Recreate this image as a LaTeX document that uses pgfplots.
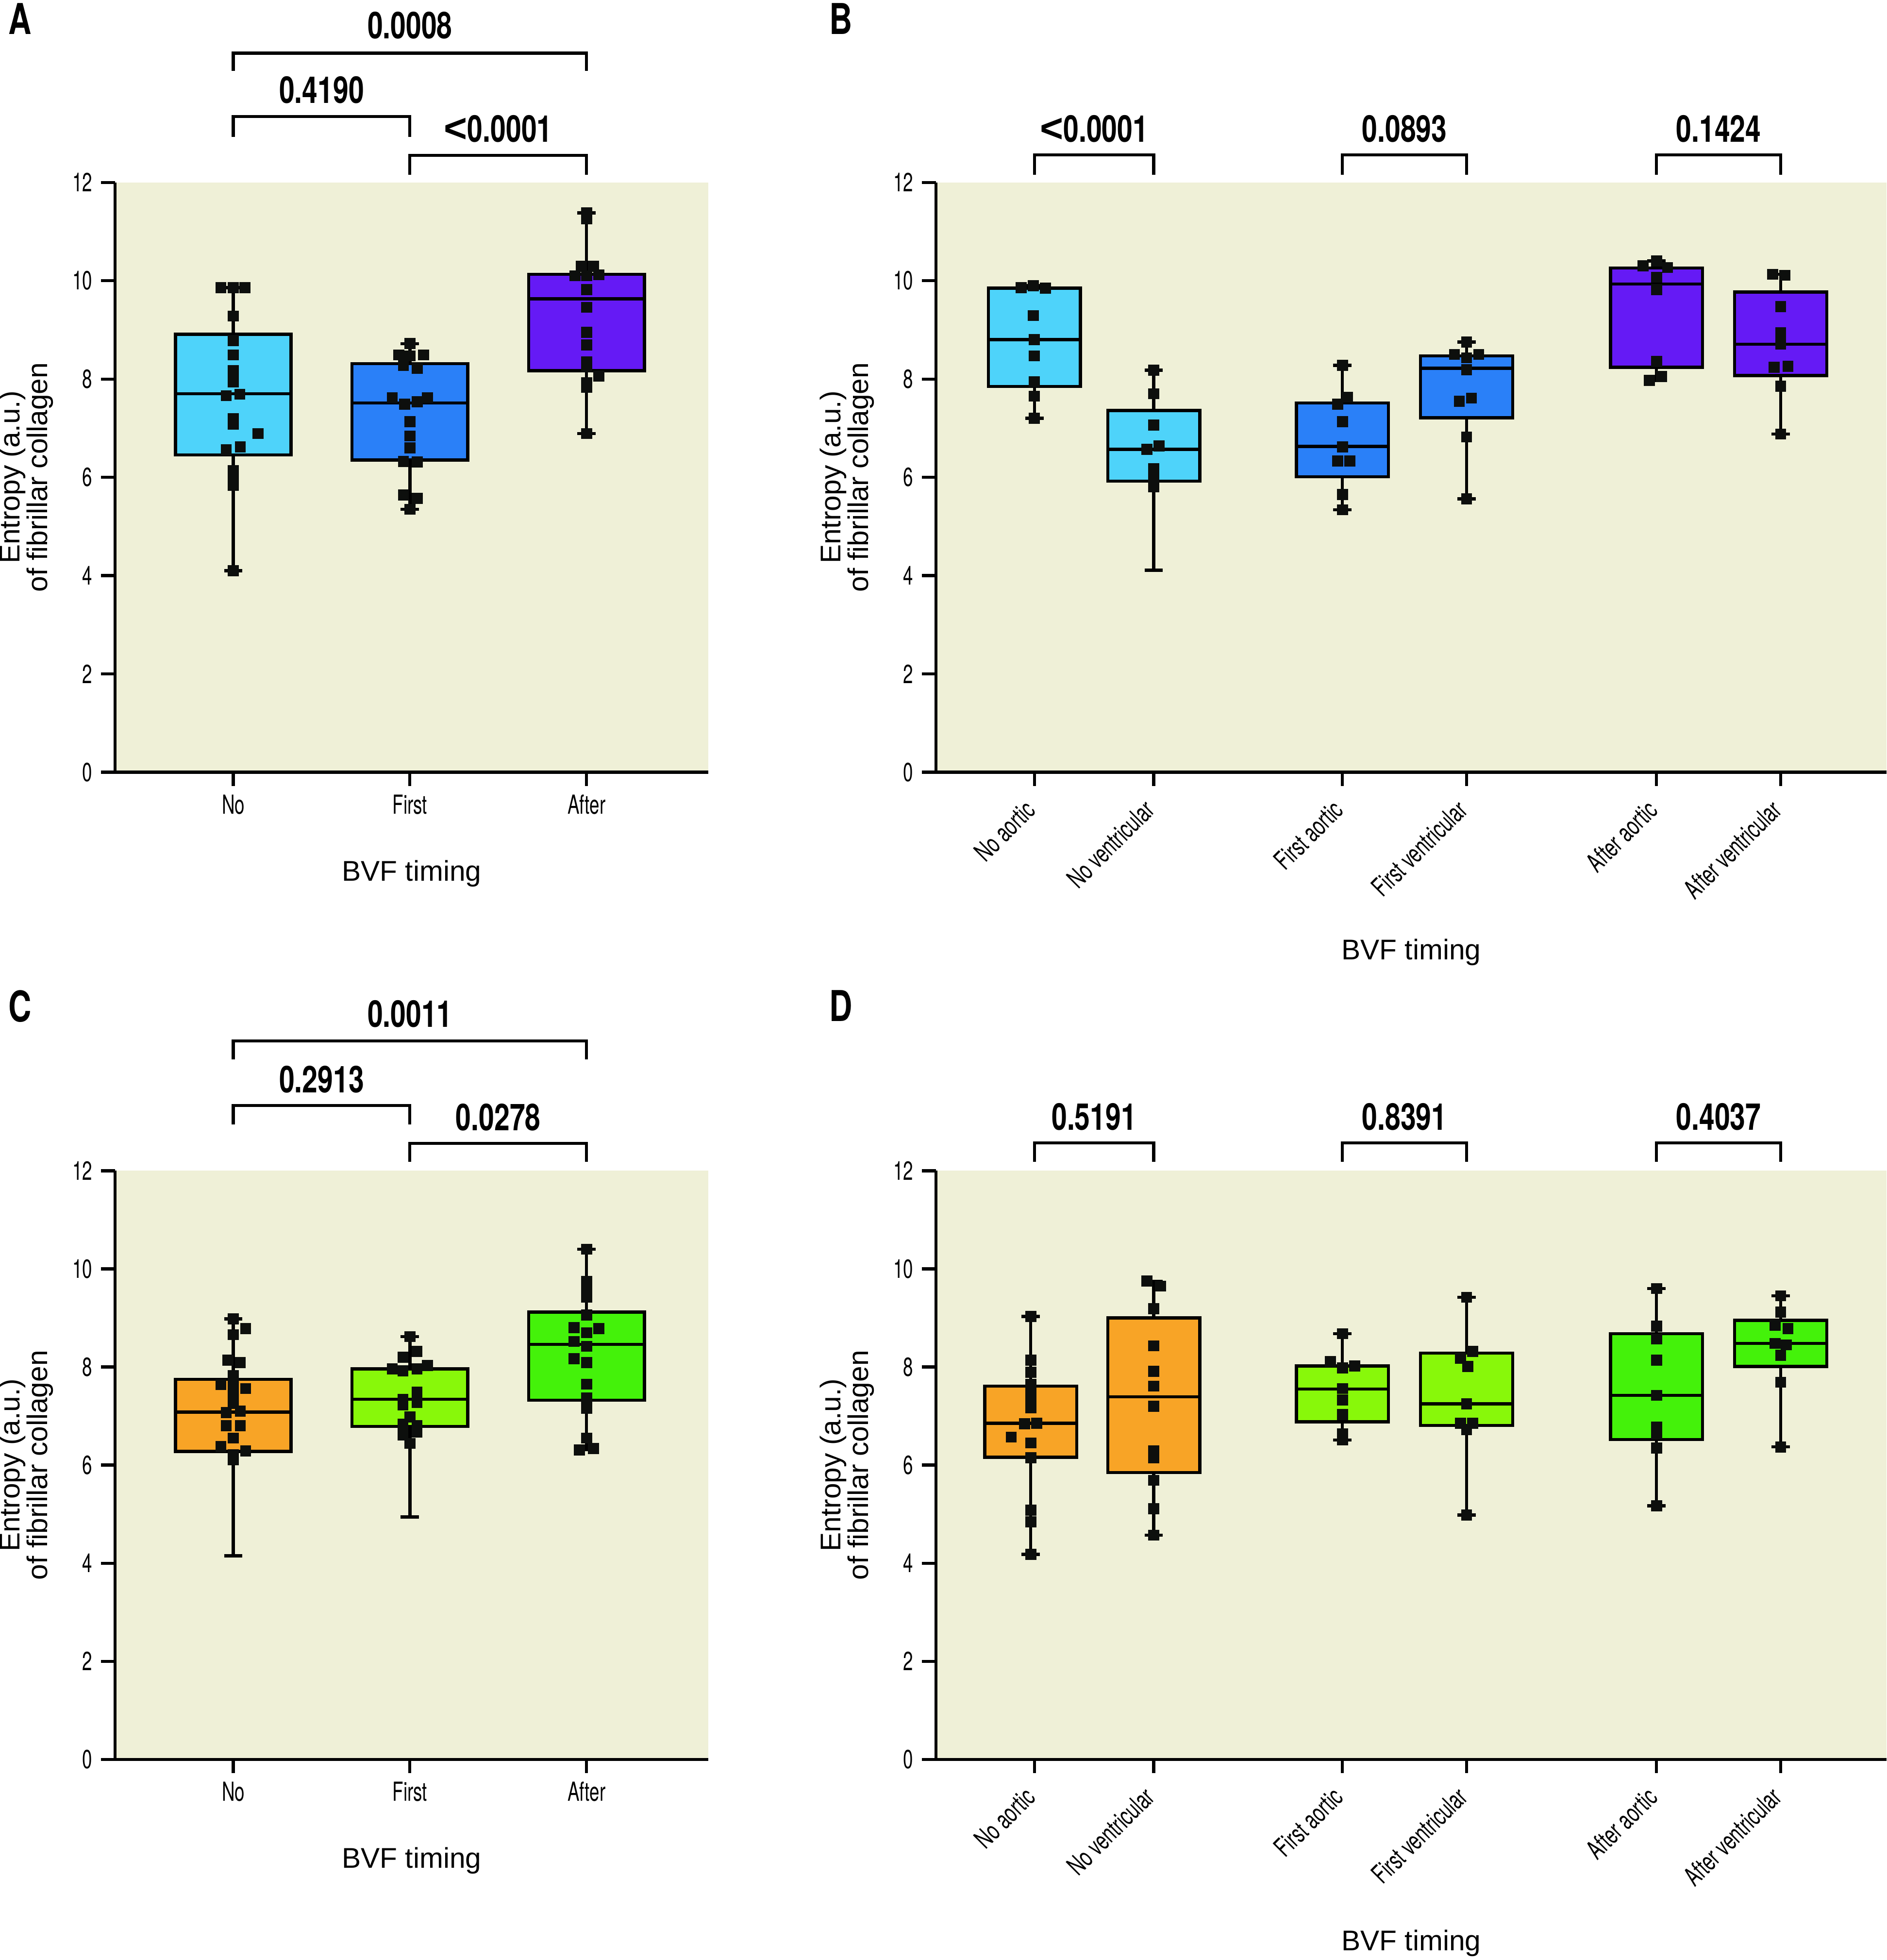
\documentclass[border=0pt]{standalone}
\usepackage{fontspec}
\setmainfont{TeX Gyre Heros}[FakeStretch=0.68]
\newfontfamily\pfont{TeX Gyre Heros}[FakeStretch=0.75]
\newfontfamily\labfont{Liberation Sans}
\usepackage{pgfplots}
\usepgfplotslibrary{statistics}
\pgfplotsset{compat=1.18}
\definecolor{bg}{RGB}{239,240,215}
\definecolor{cNo}{RGB}{78,211,250}
\definecolor{cFirst}{RGB}{42,128,248}
\definecolor{cAfter}{RGB}{101,26,245}
\definecolor{dNo}{RGB}{248,164,38}
\definecolor{dFirst}{RGB}{136,248,10}
\definecolor{dAfter}{RGB}{68,242,10}
\definecolor{mk}{RGB}{13,15,13}
\pgfplotsset{
  panel/.style={
    scale only axis, clip=false, axis lines=left,
    axis line style={-, line width=1.2pt, black},
    ymin=0, ymax=12, ytick={0,2,4,6,8,10,12},
    tick align=outside, major tick length=5.5pt,
    tick style={black, line width=1.2pt},
    tick label style={font=\fontsize{10.5}{12}\selectfont},
    /pgf/number format/assume math mode=true,
    axis background/.style={fill=bg},
    boxplot/draw direction=y,
    height=236pt,
  },
  wide3/.style={width=237.5pt, xmin=0.33, xmax=3.69, xtick={1,2,3}, xticklabels={No,First,After}},
  wide6/.style={width=380.5pt, xmin=0.19, xmax=8.0, xtick={1,1.98,3.53,4.55,6.11,7.13},
    xticklabels={No aortic,No ventricular,First aortic,First ventricular,After aortic,After ventricular},
    xticklabel style={xshift=-4.5pt, rotate=45, anchor=north east}},
  bx/.style={draw=black, line width=1.25pt, solid, fill=#1, boxplot/draw direction=y},
  pts/.style={only marks, mark=square*, mark size=2pt, color=mk, mark options={solid}},
}
\newcommand{\ylab}{\node[rotate=90, align=center, inner sep=0pt, font=\labfont\fontsize{11.4}{11}\selectfont] at ([xshift=-35.5pt]axis description cs:0,0.5) {Entropy (a.u.)\\of fibrillar collagen};}
\newcommand{\pv}{\pfont\bfseries\fontsize{14.8}{16}\selectfont}
\newcommand{\lt}{{\labfont\bfseries\fontsize{16}{16}\selectfont<}}
\begin{document}
\begin{tikzpicture}
\useasboundingbox (0,0) rectangle (755pt,784.3pt);

% ---------------- Panel A ----------------
\begin{axis}[panel, wide3, at={(46pt,475.3pt)}, anchor=south west]
\addplot[bx=cNo, boxplot prepared={draw position=1, lower whisker=4.10, lower quartile=6.455, median=7.70, upper quartile=8.91, upper whisker=9.86, box extend=0.655, whisker extend=0.104}] coordinates {};
\addplot[bx=cFirst, boxplot prepared={draw position=2, lower whisker=5.35, lower quartile=6.35, median=7.51, upper quartile=8.31, upper whisker=8.72, box extend=0.655, whisker extend=0.104}] coordinates {};
\addplot[bx=cAfter, boxplot prepared={draw position=3, lower whisker=6.89, lower quartile=8.17, median=9.63, upper quartile=10.13, upper whisker=11.38, box extend=0.655, whisker extend=0.104}] coordinates {};
\addplot[pts] coordinates {(0.93,9.86) (1,9.86) (1.066,9.86) (1,9.28) (1,8.78) (1,8.49) (1,8.17) (1,7.94) (0.96,7.66) (1.037,7.69) (1,7.19) (1,7.08) (1.14,6.89) (0.96,6.56) (1.04,6.62) (1,6.14) (1,6.0) (1,5.84) (1,4.10)};
\addplot[pts] coordinates {(2,8.72) (1.937,8.49) (2,8.47) (2.077,8.49) (1.963,8.28) (2.042,8.22) (1.9,7.62) (1.97,7.49) (2.042,7.54) (2.1,7.62) (2,7.13) (2,6.84) (2,6.60) (1.963,6.32) (2.042,6.31) (1.963,5.64) (2.042,5.57) (2,5.35)};
\addplot[pts] coordinates {(3,11.38) (3,11.26) (2.97,10.29) (3.04,10.29) (2.934,10.10) (3,10.10) (3.07,10.12) (3,9.82) (3,9.46) (3,8.95) (3,8.69) (3,8.35) (3,8.25) (3.07,8.06) (3,7.92) (3,7.83) (3,6.89)};
\draw[line width=1.2pt] (axis cs:1,14.27) -- (axis cs:1,14.63) -- (axis cs:3,14.63) -- (axis cs:3,14.27);
\node[font=\pv] at (axis cs:2,15.2) {0.0008};
\draw[line width=1.2pt] (axis cs:1,12.93) -- (axis cs:1,13.34) -- (axis cs:2,13.34) -- (axis cs:2,12.93);
\node[font=\pv] at (axis cs:1.5,13.88) {0.4190};
\draw[line width=1.2pt] (axis cs:2,12.16) -- (axis cs:2,12.55) -- (axis cs:3,12.55) -- (axis cs:3,12.16);
\node[font=\pv] at (axis cs:2.5,13.09) {\lt0.0001};
\ylab
\node[font=\labfont\fontsize{11.4}{13}\selectfont] at ([yshift=-40.5pt]axis description cs:0.5,0) {BVF timing};
\end{axis}

% ---------------- Panel B ----------------
\begin{axis}[panel, wide6, at={(374.5pt,475.3pt)}, anchor=south west]
\addplot[bx=cNo, boxplot prepared={draw position=1, lower whisker=7.20, lower quartile=7.85, median=8.80, upper quartile=9.85, upper whisker=9.90, box extend=0.756, whisker extend=0.15}] coordinates {};
\addplot[bx=cNo, boxplot prepared={draw position=1.98, lower whisker=4.11, lower quartile=5.92, median=6.57, upper quartile=7.36, upper whisker=8.18, box extend=0.756, whisker extend=0.15}] coordinates {};
\addplot[bx=cFirst, boxplot prepared={draw position=3.53, lower whisker=5.34, lower quartile=6.01, median=6.63, upper quartile=7.51, upper whisker=8.28, box extend=0.756, whisker extend=0.15}] coordinates {};
\addplot[bx=cFirst, boxplot prepared={draw position=4.55, lower whisker=5.56, lower quartile=7.21, median=8.22, upper quartile=8.47, upper whisker=8.75, box extend=0.756, whisker extend=0.15}] coordinates {};
\addplot[bx=cAfter, boxplot prepared={draw position=6.11, lower whisker=7.97, lower quartile=8.24, median=9.93, upper quartile=10.26, upper whisker=10.40, box extend=0.756, whisker extend=0.15}] coordinates {};
\addplot[bx=cAfter, boxplot prepared={draw position=7.13, lower whisker=6.88, lower quartile=8.07, median=8.71, upper quartile=9.77, upper whisker=10.13, box extend=0.756, whisker extend=0.15}] coordinates {};
\addplot[pts] coordinates {(0.89,9.86) (0.99,9.90) (1.09,9.85) (0.99,9.29) (1,8.80) (1,8.47) (1,7.94) (1,7.65) (1,7.20)};
\addplot[pts] coordinates {(1.98,8.18) (1.98,7.70) (1.98,7.06) (1.925,6.57) (2.024,6.64) (1.98,6.18) (1.98,6.01) (1.98,5.81)};
\addplot[pts] coordinates {(3.53,8.28) (3.57,7.63) (3.49,7.49) (3.53,7.13) (3.53,6.62) (3.49,6.33) (3.59,6.33) (3.53,5.65) (3.53,5.34)};
\addplot[pts] coordinates {(4.55,8.75) (4.45,8.50) (4.55,8.43) (4.65,8.50) (4.55,8.19) (4.49,7.55) (4.59,7.61) (4.55,6.82) (4.55,5.56)};
\addplot[pts] coordinates {(6.11,10.40) (6.0,10.30) (6.20,10.27) (6.11,10.07) (6.11,9.82) (6.11,8.36) (6.15,8.05) (6.05,7.97)};
\addplot[pts] coordinates {(7.063,10.13) (7.163,10.11) (7.13,9.47) (7.13,8.94) (7.13,8.71) (7.075,8.24) (7.19,8.26) (7.13,7.85) (7.13,6.88)};
\draw[line width=1.2pt] (axis cs:1,12.16) -- (axis cs:1,12.56) -- (axis cs:1.98,12.56) -- (axis cs:1.98,12.16);
\node[font=\pv] at (axis cs:1.49,13.09) {\lt0.0001};
\draw[line width=1.2pt] (axis cs:3.53,12.16) -- (axis cs:3.53,12.56) -- (axis cs:4.55,12.56) -- (axis cs:4.55,12.16);
\node[font=\pv] at (axis cs:4.04,13.09) {0.0893};
\draw[line width=1.2pt] (axis cs:6.11,12.16) -- (axis cs:6.11,12.56) -- (axis cs:7.13,12.56) -- (axis cs:7.13,12.16);
\node[font=\pv] at (axis cs:6.62,13.09) {0.1424};
\ylab
\node[font=\labfont\fontsize{11.4}{13}\selectfont] at ([yshift=-72pt]axis description cs:0.5,0) {BVF timing};
\end{axis}

% ---------------- Panel C ----------------
\begin{axis}[panel, wide3, at={(46pt,80.3pt)}, anchor=south west, height=235.5pt]
\addplot[bx=dNo, boxplot prepared={draw position=1, lower whisker=4.15, lower quartile=6.28, median=7.08, upper quartile=7.75, upper whisker=8.98, box extend=0.655, whisker extend=0.104}] coordinates {};
\addplot[bx=dFirst, boxplot prepared={draw position=2, lower whisker=4.94, lower quartile=6.79, median=7.34, upper quartile=7.96, upper whisker=8.62, box extend=0.655, whisker extend=0.104}] coordinates {};
\addplot[bx=dAfter, boxplot prepared={draw position=3, lower whisker=6.31, lower quartile=7.32, median=8.46, upper quartile=9.12, upper whisker=10.40, box extend=0.655, whisker extend=0.104}] coordinates {};
\addplot[pts] coordinates {(1,8.98) (1.07,8.78) (1,8.66) (0.97,8.14) (1.04,8.09) (1,7.82) (0.93,7.64) (1,7.60) (1.07,7.56) (1,7.47) (1,7.26) (0.96,7.07) (1.04,7.10) (0.96,6.80) (1.04,6.80) (1,6.55) (0.93,6.38) (1.07,6.29) (1,6.21) (1,6.11)};
\addplot[pts] coordinates {(2,8.62) (1.96,8.20) (2.04,8.32) (1.9,7.96) (1.96,7.92) (2.04,7.96) (2.1,8.03) (2.04,7.49) (1.96,7.34) (2.04,7.28) (1.96,7.23) (2,6.98) (1.96,6.83) (2.04,6.80) (2.04,6.67) (1.96,6.61) (2,6.44)};
\addplot[pts] coordinates {(3,10.40) (3,9.74) (3,9.55) (3,9.42) (3,9.06) (2.93,8.80) (3.07,8.78) (3,8.70) (2.93,8.52) (3,8.42) (2.93,8.17) (3,8.09) (3,7.65) (3,7.37) (3,7.16) (3,6.55) (2.96,6.31) (3.04,6.34)};
\draw[line width=1.2pt] (axis cs:1,14.27) -- (axis cs:1,14.65) -- (axis cs:3,14.65) -- (axis cs:3,14.27);
\node[font=\pv] at (axis cs:2,15.2) {0.0011};
\draw[line width=1.2pt] (axis cs:1,12.95) -- (axis cs:1,13.33) -- (axis cs:2,13.33) -- (axis cs:2,12.95);
\node[font=\pv] at (axis cs:1.5,13.86) {0.2913};
\draw[line width=1.2pt] (axis cs:2,12.18) -- (axis cs:2,12.56) -- (axis cs:3,12.56) -- (axis cs:3,12.18);
\node[font=\pv] at (axis cs:2.5,13.09) {0.0278};
\ylab
\node[font=\labfont\fontsize{11.4}{13}\selectfont] at ([yshift=-40.5pt]axis description cs:0.5,0) {BVF timing};
\end{axis}

% ---------------- Panel D ----------------
\begin{axis}[panel, wide6, at={(374.5pt,80.3pt)}, anchor=south west, height=235.5pt]
\addplot[bx=dNo, boxplot prepared={draw position=0.97, lower whisker=4.18, lower quartile=6.16, median=6.85, upper quartile=7.61, upper whisker=9.03, box extend=0.756, whisker extend=0.15}] coordinates {};
\addplot[bx=dNo, boxplot prepared={draw position=1.98, lower whisker=4.57, lower quartile=5.85, median=7.39, upper quartile=9.00, upper whisker=9.75, box extend=0.756, whisker extend=0.15}] coordinates {};
\addplot[bx=dFirst, boxplot prepared={draw position=3.53, lower whisker=6.51, lower quartile=6.88, median=7.55, upper quartile=8.02, upper whisker=8.68, box extend=0.756, whisker extend=0.15}] coordinates {};
\addplot[bx=dFirst, boxplot prepared={draw position=4.55, lower whisker=4.98, lower quartile=6.81, median=7.25, upper quartile=8.28, upper whisker=9.42, box extend=0.756, whisker extend=0.15}] coordinates {};
\addplot[bx=dAfter, boxplot prepared={draw position=6.11, lower whisker=5.17, lower quartile=6.52, median=7.42, upper quartile=8.68, upper whisker=9.60, box extend=0.756, whisker extend=0.15}] coordinates {};
\addplot[bx=dAfter, boxplot prepared={draw position=7.13, lower whisker=6.37, lower quartile=8.01, median=8.48, upper quartile=8.95, upper whisker=9.45, box extend=0.756, whisker extend=0.15}] coordinates {};
\addplot[pts] coordinates {(0.97,9.03) (0.97,8.14) (0.97,7.89) (0.97,7.65) (0.97,7.52) (0.97,7.30) (0.97,7.17) (0.92,6.84) (1.02,6.85) (0.81,6.57) (0.97,6.45) (0.97,6.15) (0.97,5.08) (0.97,4.84) (0.97,4.18)};
\addplot[pts] coordinates {(1.925,9.75) (2.035,9.65) (1.98,9.19) (1.98,8.43) (1.98,7.91) (1.98,7.61) (1.98,7.20) (1.98,6.29) (1.98,6.15) (1.98,5.69) (1.98,5.11) (1.98,4.57)};
\addplot[pts] coordinates {(3.53,8.68) (3.43,8.11) (3.53,7.98) (3.63,8.02) (3.53,7.56) (3.53,7.33) (3.53,7.03) (3.53,6.64) (3.53,6.51)};
\addplot[pts] coordinates {(4.55,9.42) (4.60,8.32) (4.50,8.18) (4.56,8.01) (4.55,7.25) (4.50,6.85) (4.60,6.85) (4.55,6.72) (4.55,4.98)};
\addplot[pts] coordinates {(6.11,9.60) (6.11,8.83) (6.11,8.57) (6.11,8.14) (6.11,7.42) (6.11,6.77) (6.11,6.63) (6.11,6.35) (6.11,5.17)};
\addplot[pts] coordinates {(7.13,9.45) (7.13,9.12) (7.085,8.85) (7.19,8.78) (7.085,8.48) (7.175,8.45) (7.13,8.24) (7.13,7.69) (7.13,6.37)};
\draw[line width=1.2pt] (axis cs:1,12.18) -- (axis cs:1,12.57) -- (axis cs:1.98,12.57) -- (axis cs:1.98,12.18);
\node[font=\pv] at (axis cs:1.49,13.1) {0.5191};
\draw[line width=1.2pt] (axis cs:3.53,12.18) -- (axis cs:3.53,12.57) -- (axis cs:4.55,12.57) -- (axis cs:4.55,12.18);
\node[font=\pv] at (axis cs:4.04,13.1) {0.8391};
\draw[line width=1.2pt] (axis cs:6.11,12.18) -- (axis cs:6.11,12.57) -- (axis cs:7.13,12.57) -- (axis cs:7.13,12.18);
\node[font=\pv] at (axis cs:6.62,13.1) {0.4037};
\ylab
\node[font=\labfont\fontsize{11.4}{13}\selectfont] at ([yshift=-73.5pt]axis description cs:0.5,0) {BVF timing};
\end{axis}

\node[anchor=north west, inner sep=0pt, font=\pfont\bfseries\fontsize{17}{17}\selectfont] at (3.15pt,783.1pt) {A};
\node[anchor=north west, inner sep=0pt, font=\pfont\bfseries\fontsize{17}{17}\selectfont] at (331.7pt,783.1pt) {B};
\node[anchor=north west, inner sep=0pt, font=\pfont\bfseries\fontsize{17}{17}\selectfont] at (3.15pt,388.2pt) {C};
\node[anchor=north west, inner sep=0pt, font=\pfont\bfseries\fontsize{17}{17}\selectfont] at (331.7pt,388.2pt) {D};
\end{tikzpicture}
\end{document}
